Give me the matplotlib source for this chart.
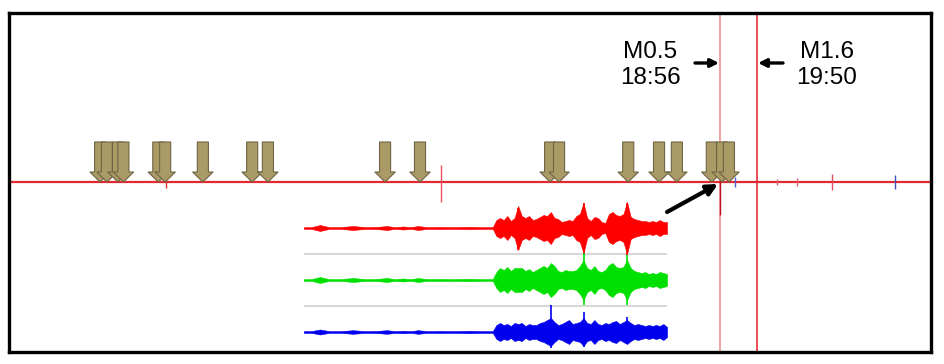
import numpy as np
import matplotlib.pyplot as plt

plt.rcParams['font.family'] = ['Liberation Sans', 'DejaVu Sans']


def hours(hhmm):
    h, m = hhmm.split(':')
    return int(h) + int(m) / 60.0


# day-long record, time of day
record_start = '1:38'
record_end = '24:04'

# detected small events (khaki arrows)
event_times = ['3:51', '4:01', '4:17', '4:25', '5:16', '5:26', '6:21', '7:33', '7:56',
               '10:47', '11:38', '14:48', '15:01', '16:42', '17:27', '17:53',
               '18:44', '18:59', '19:09']

# spikes on the long trace: time, amplitude up / down
spike_times = ['5:27', '12:09', '18:56', '19:18', '20:19', '20:48', '21:39', '23:11']
spike_up = [1, 17, 2, 5, 3, 4, 8, 7]
spike_down = [6, 20, 33, 5, 3, 4, 8, 7]
spike_colors = ['#e03030', '#f05060', '#c01020', '#5060d0', '#e06070', '#e06070', '#e05060', '#4050c0']

# the two located quakes
quake_labels = ['M0.5', 'M1.6']
quake_times = ['18:56', '19:50']

# zoomed three-component record (seconds, envelope amplitude)
zoom_t = [0, 2, 4.4, 7, 10, 13.5, 17, 20, 22.9, 25, 27.3, 29.5, 31.4, 34, 37.5, 41,
          45.7, 49, 52] + list(range(53, 101))
red_amp = [0.8, 0.8, 3, 0.8, 0.8, 2, 0.8, 1, 2, 0.8, 1.5, 0.8, 2, 0.8, 1, 0.8, 1.2, 0.8, 0.8,
           8, 10, 8, 12, 7, 10, 22, 12, 10, 12, 8, 9, 11, 13, 12, 16, 10, 9, 6, 7, 8, 7,
           12, 14, 25, 10, 7, 11, 10, 6, 5, 14, 16, 13, 12, 14, 26, 11, 9, 8, 7, 7, 6, 7,
           6, 8, 6, 6]
green_amp = [0.8, 0.8, 3, 0.8, 0.8, 2, 0.8, 1, 2, 0.8, 1.5, 0.8, 2, 0.8, 1, 0.8, 1.2, 0.8, 0.8,
             8, 12, 10, 13, 9, 12, 12, 12, 9, 11, 8, 10, 12, 14, 12, 17, 14, 9, 8, 10, 9, 9,
             10, 14, 20, 12, 10, 14, 9, 8, 10, 15, 17, 13, 12, 13, 20, 12, 9, 8, 7, 8, 6, 7,
             6, 8, 7, 6]
blue_amp = [0.8, 0.8, 2.5, 0.8, 0.8, 1.8, 0.8, 1, 1.8, 0.8, 1.2, 0.8, 1.8, 0.8, 1, 0.8, 1.2, 0.8, 0.8,
            7, 9, 7, 8, 6, 9, 8, 9, 6, 8, 7, 7, 9, 10, 12, 14, 10, 7, 8, 10, 12, 8,
            9, 10, 14, 9, 8, 12, 8, 7, 9, 8, 10, 11, 8, 10, 12, 9, 7, 8, 7, 6, 7, 6,
            7, 6, 8, 5]
red_spikes = [(59, 20, 22), (68, 13, 16), (77, 25, 27), (89, 25, 27)]
green_spikes = [(68, 15, 17), (77, 27, 25), (89, 25, 25)]
blue_spikes = [(68, 27, 16), (77, 20, 15), (89, 15, 12)]

fig = plt.figure(figsize=(9.45, 3.64), dpi=100)
ax = fig.add_axes([9 / 945, 12 / 364, 922 / 945, 339 / 364])
ax.set_xlim(hours(record_start), hours(record_end))
ax.set_ylim(-170, 169)
ax.set_xticks([])
ax.set_yticks([])
for s in ax.spines.values():
    s.set_linewidth(2.4)
    s.set_color('black')

# long trace
ax.plot([hours(record_start), hours(record_end)], [0, 0], color='#e02a30', lw=1.6, zorder=2)
for t, up, dn, c in zip(spike_times, spike_up, spike_down, spike_colors):
    ax.vlines(hours(t), -dn, up, color=c, lw=1.0, zorder=2)

# quake markers
ax.axvline(hours(quake_times[0]), color='#f08a8a', lw=1.1, zorder=1)
ax.axvline(hours(quake_times[1]), color='#e8303a', lw=1.2, zorder=1)

# khaki arrows for events
for t in event_times:
    ax.arrow(hours(t), 40, 0, -40, width=0.27, head_width=0.5, head_length=10,
             length_includes_head=True, fc='#a99a66', ec='#6e6444', lw=0.8, zorder=3)

# labels with small arrows
dx = 0.024324
ax.text(hours(quake_times[0]) - 70 * dx, 117, quake_labels[0] + '\n' + quake_times[0],
        ha='center', va='center', fontsize=17.5, linespacing=1.25)
ax.text(hours(quake_times[1]) + 70 * dx, 117, quake_labels[1] + '\n' + quake_times[1],
        ha='center', va='center', fontsize=17.5, linespacing=1.25)
ap = dict(arrowstyle='-|>', lw=2.4, color='black', mutation_scale=12, shrinkA=0, shrinkB=0)
ax.annotate('', xy=(hours(quake_times[0]) - 1 * dx, 119),
            xytext=(hours(quake_times[0]) - 25 * dx, 119), arrowprops=ap)
ax.annotate('', xy=(hours(quake_times[1]) + 1 * dx, 119),
            xytext=(hours(quake_times[1]) + 26 * dx, 119), arrowprops=ap)

# arrow pointing from the zoomed record to the M0.5 event
ap2 = dict(arrowstyle='-|>', lw=3, color='black', mutation_scale=16, shrinkA=0, shrinkB=0)
ax.annotate('', xy=(hours(quake_times[0]) - 2 * dx, -2),
            xytext=(hours(quake_times[0]) - 53 * dx, -30), arrowprops=ap2)

# zoomed three components
ins = fig.add_axes([304 / 945, 6 / 364, 363 / 945, 156 / 364])
ins.set_xlim(0, 100)
ins.set_ylim(-26, 130)
ins.axis('off')
ins.patch.set_alpha(0)
for y in (78, 26):
    ins.plot([0, 100], [y, y], color='#cfcfcf', lw=1.2)

traces = [(104, red_amp, red_spikes, '#ff0000'),
          (52, green_amp, green_spikes, '#00e000'),
          (0, blue_amp, blue_spikes, '#0000ee')]
for off, amp, spikes, c in traces:
    a = np.array(amp)
    ins.fill_between(zoom_t, off - a, off + a, color=c, lw=0.4)
    ins.plot(zoom_t, [off] * len(zoom_t), color=c, lw=0.9)
    for t, up, dn in spikes:
        ins.vlines(t, off - dn, off + up, color=c, lw=1.2)

fig.savefig('out.png', dpi=100)
